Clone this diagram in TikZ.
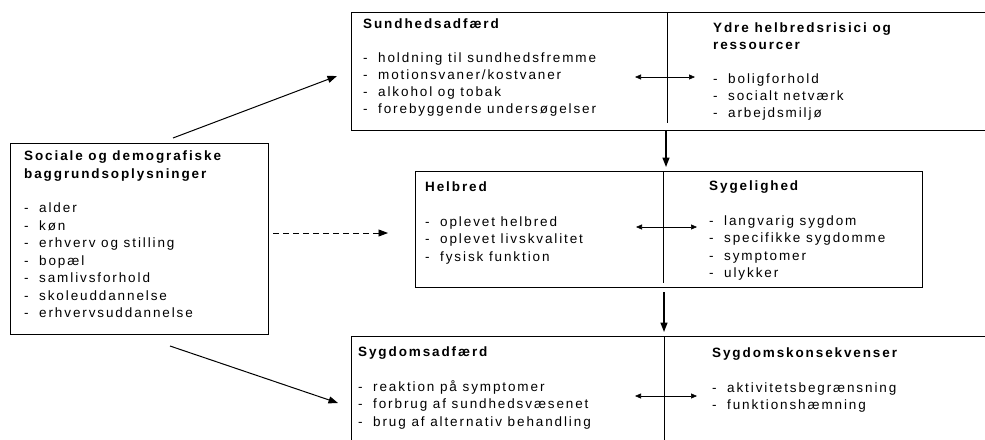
\documentclass[tikz,border=0pt]{standalone}
\usepackage{fontspec}
\setmainfont{Liberation Sans}[LetterSpace=14]
\usetikzlibrary{arrows.meta, positioning}

\newcommand{\pkt}[1]{\makebox[15pt][l]{-}#1}

\tikzset{
  box/.style={draw, line width=0.8pt, inner sep=0pt, anchor=north west},
  txt/.style={anchor=north west, inner sep=0pt, align=left,
    font=\fontsize{13.5}{17.5}\selectfont},
  arr/.style={line width=1pt, -{Triangle[length=9.5pt,width=7pt]}},
  dbl/.style={line width=0.6pt, {Triangle[length=6pt,width=5pt]}-{Triangle[length=6pt,width=5pt]}},
  divider/.style={line width=0.6pt}
}

\begin{document}
\begin{tikzpicture}[x=1pt,y=-1pt]
  \useasboundingbox (0,0) rectangle (985,439);
  % boxes
  \node[box, minimum width=258pt, minimum height=191pt] (demo) at (10,143) {};
  \node[box, minimum width=700pt, minimum height=118pt] (sund) at (351,12) {};
  \node[box, minimum width=507pt, minimum height=116pt] (helb) at (415,171) {};
  \node[box, minimum width=700pt, minimum height=140pt] (sygd) at (351,336) {};
  % dividers
  \coordinate (sunddiv) at (667,12);
  \coordinate (helbdiv) at (663,171);
  \coordinate (sygddiv) at (664,336);
  \draw[divider] (sunddiv) -- ++(0,111);
  \draw[divider] (helbdiv) -- ++(0,112);
  \draw[divider] (sygddiv) -- ++(0,120);
  % texts
  \node[txt] (demoT) at (24,151) {\textbf{Sociale og demografiske}\\
    \textbf{baggrundsoplysninger}\\[17pt]
    \pkt{alder}\\ \pkt{køn}\\ \pkt{erhverv og stilling}\\ \pkt{bopæl}\\
    \pkt{samlivsforhold}\\ \pkt{skoleuddannelse}\\ \pkt{erhvervsuddannelse}};
  \node[txt, font=\fontsize{13.5}{16.8}\selectfont] (sundL) at (363,19) {\textbf{Sundhedsadfærd}\\[17pt]
    \pkt{holdning til sundhedsfremme}\\ \pkt{motionsvaner/kostvaner}\\
    \pkt{alkohol og tobak}\\ \pkt{forebyggende undersøgelser}};
  \node[txt, font=\fontsize{13.5}{16.8}\selectfont] (sundR) at (713,23) {\textbf{Ydre helbredsrisici og}\\
    \textbf{ressourcer}\\[17pt]
    \pkt{boligforhold}\\ \pkt{socialt netværk}\\ \pkt{arbejdsmiljø}};
  \node[txt] (helbL) at (425,182) {\textbf{Helbred}\\[17pt]
    \pkt{oplevet helbred}\\ \pkt{oplevet livskvalitet}\\ \pkt{fysisk funktion}};
  \node[txt] (helbR) at (709,181) {\textbf{Sygelighed}\\[17pt]
    \pkt{langvarig sygdom}\\ \pkt{specifikke sygdomme}\\ \pkt{symptomer}\\ \pkt{ulykker}};
  \node[txt] (sygdL) at (358,347) {\textbf{Sygdomsadfærd}\\[17pt]
    \pkt{reaktion på symptomer}\\ \pkt{forbrug af sundhedsvæsenet}\\
    \pkt{brug af alternativ behandling}};
  \node[txt] (sygdR) at (712,348) {\textbf{Sygdomskonsekvenser}\\[17pt]
    \pkt{aktivitetsbegrænsning}\\ \pkt{funktionshæmning}};
  % connector ends
  \coordinate (demoUp) at (173,138);
  \coordinate (sundIn) at (337,76);
  \coordinate (demoMid) at (273,233);
  \coordinate (helbIn) at (388,233);
  \coordinate (demoDown) at (170,346);
  \coordinate (sygdIn) at (338,403);
  \coordinate (sundOut) at (666,131);
  \coordinate (helbTop) at (666,167);
  \coordinate (helbOut) at (664,292);
  \coordinate (sygdTop) at (664,332);
  \coordinate (sundA) at (635,77);  \coordinate (sundB) at (695,77);
  \coordinate (helbA) at (636,227); \coordinate (helbB) at (697,227);
  \coordinate (sygdA) at (635,396); \coordinate (sygdB) at (697,396);
  % connectors
  \draw[arr] (demoUp) -- (sundIn);
  \draw[arr, dashed, dash pattern=on 6pt off 4pt, line width=0.8pt] (demoMid) -- (helbIn);
  \draw[arr] (demoDown) -- (sygdIn);
  \draw[arr, line width=1.4pt] (sundOut) -- (helbTop);
  \draw[arr, line width=1.4pt] (helbOut) -- (sygdTop);
  \draw[dbl] (sundA) -- (sundB);
  \draw[dbl] (helbA) -- (helbB);
  \draw[dbl] (sygdA) -- (sygdB);
\end{tikzpicture}
\end{document}
